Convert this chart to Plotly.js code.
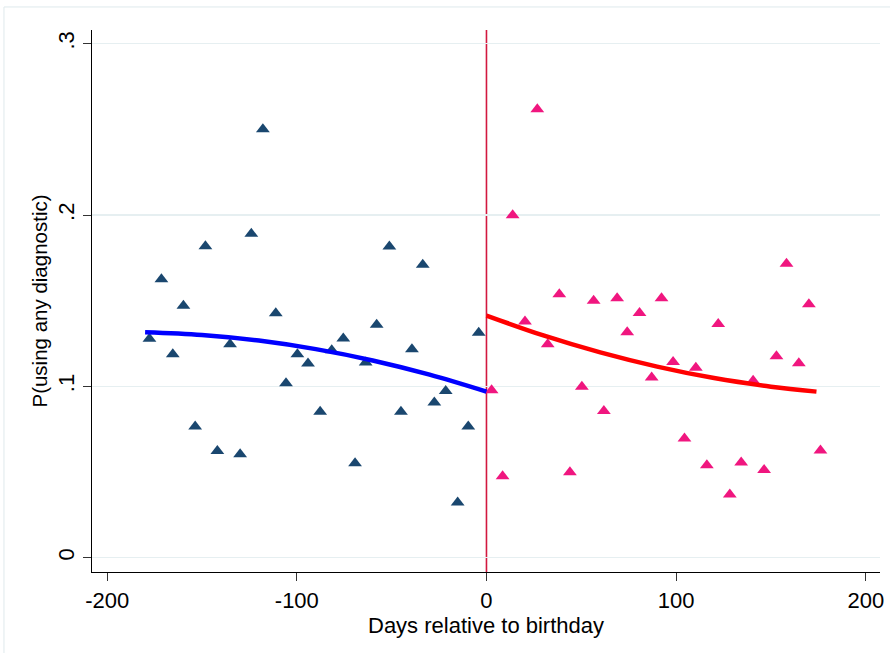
<!DOCTYPE html>
<html>
<head>
<meta charset="utf-8">
<script src="https://cdn.plot.ly/plotly-3.0.1.min.js"></script>
<style>
  html, body { margin: 0; padding: 0; background: #ffffff; }
  #chart { width: 890px; height: 653px; }
</style>
</head>
<body>
<div id="chart"></div>
<script>
// Binned means before the birthday (days, probability)
const leftDays = [-177.7, -171.4, -165.4, -159.8, -153.6, -148.2, -141.9, -135.2, -129.9, -124.0,
                  -117.9, -111.1, -105.7, -99.7, -94.1, -87.7, -81.6, -75.5, -69.3, -63.7,
                  -57.9, -51.2, -45.1, -39.3, -33.6, -27.5, -21.5, -15.2, -9.6, -4.1];
const leftP = [0.1277, 0.1625, 0.1187, 0.1470, 0.0765, 0.1818, 0.0623, 0.1246, 0.0603, 0.1890,
               0.2500, 0.1427, 0.1018, 0.1187, 0.1133, 0.0852, 0.1210, 0.1279, 0.0551, 0.1139,
               0.1360, 0.1816, 0.0852, 0.1217, 0.1710, 0.0905, 0.0973, 0.0321, 0.0765, 0.1313];

// Binned means after the birthday
const rightDays = [2.7, 8.5, 13.8, 20.3, 26.8, 32.3, 38.4, 44.0, 50.3, 56.5,
                   61.9, 68.9, 74.2, 80.7, 87.1, 92.3, 98.4, 104.4, 110.4, 116.2,
                   122.2, 128.3, 134.3, 140.6, 146.4, 152.9, 158.2, 164.7, 170.0, 176.1];
const rightP = [0.0977, 0.0475, 0.1999, 0.1378, 0.2618, 0.1246, 0.1538, 0.0499, 0.0998, 0.1499,
                0.0856, 0.1514, 0.1316, 0.1428, 0.1051, 0.1514, 0.1142, 0.0695, 0.1109, 0.0539,
                0.1364, 0.0368, 0.0555, 0.1033, 0.0512, 0.1176, 0.1715, 0.1135, 0.1479, 0.0625];

// Fitted curves
const leftFitDays = [-180, -150, -120, -90, -60, -30, 0];
const leftFitP = [0.1316, 0.1300, 0.1267, 0.1217, 0.1151, 0.1068, 0.0969];
const rightFitDays = [0, 30, 60, 90, 120, 150, 174];
const rightFitP = [0.1413, 0.1297, 0.1198, 0.1115, 0.1048, 0.0998, 0.0969];

// Axis ticks
const xTickVals = [-200, -100, 0, 100, 200];
const xTickText = ['-200', '-100', '0', '100', '200'];
const yTickVals = [0, 0.1, 0.2, 0.3];
const yTickText = ['0', '.1', '.2', '.3'];

const FONT = '"Liberation Sans", Arial, Helvetica, sans-serif';

const traces = [
  {
    x: leftDays, y: leftP, type: 'scatter', mode: 'markers',
    marker: { symbol: 'triangle-up', size: 12, color: '#1a476f' },
    hoverinfo: 'x+y', showlegend: false
  },
  {
    x: rightDays, y: rightP, type: 'scatter', mode: 'markers',
    marker: { symbol: 'triangle-up', size: 12, color: '#f0167f' },
    hoverinfo: 'x+y', showlegend: false
  },
  {
    x: leftFitDays, y: leftFitP, type: 'scatter', mode: 'lines',
    line: { color: '#0000ff', width: 4.5, shape: 'spline' },
    showlegend: false
  },
  {
    x: rightFitDays, y: rightFitP, type: 'scatter', mode: 'lines',
    line: { color: '#ff0000', width: 4.5, shape: 'spline' },
    showlegend: false
  }
];

const layout = {
  width: 890, height: 653,
  margin: { l: 92, r: 10, t: 30, b: 81, pad: 0 },
  paper_bgcolor: '#ffffff', plot_bgcolor: '#ffffff',
  font: { family: FONT, size: 22, color: '#000000' },
  showlegend: false,
  xaxis: {
    range: [-208, 207.5],
    tickmode: 'array', tickvals: xTickVals, ticktext: xTickText,
    ticks: 'outside', ticklen: 8, tickwidth: 1, tickcolor: '#333333',
    showline: true, linecolor: '#000000', linewidth: 1.2,
    showgrid: false, zeroline: false,
    tickfont: { family: FONT, size: 22, color: '#000000' },
    title: { text: 'Days relative to birthday', font: { family: FONT, size: 22, color: '#000000' }, standoff: 0 },
    automargin: false
  },
  yaxis: {
    range: [-0.0084, 0.308],
    tickmode: 'array', tickvals: yTickVals, ticktext: yTickText,
    tickangle: -90,
    ticks: 'outside', ticklen: 8, tickwidth: 1, tickcolor: '#333333',
    showline: true, linecolor: '#000000', linewidth: 1.2,
    showgrid: true, gridcolor: '#e6eff1', gridwidth: 1.2,
    zeroline: false,
    tickfont: { family: FONT, size: 22, color: '#000000' },
    title: { text: 'P(using any diagnostic)', font: { family: FONT, size: 20.5, color: '#000000' }, standoff: 0 },
    automargin: false
  },
  shapes: [
    {
      type: 'line', xref: 'x', yref: 'paper', x0: 0, x1: 0, y0: 0, y1: 1,
      line: { color: '#d2183f', width: 1.6 }, layer: 'below'
    },
    {
      type: 'rect', xref: 'paper', yref: 'paper',
      x0: -0.1117, x1: 1.2, y0: -0.3, y1: 1.0425,
      line: { color: '#dfe9ec', width: 1 }, fillcolor: 'rgba(0,0,0,0)', layer: 'below'
    }
  ]
};

Plotly.newPlot('chart', traces, layout, { staticPlot: true, displayModeBar: false });
</script>
</body>
</html>
